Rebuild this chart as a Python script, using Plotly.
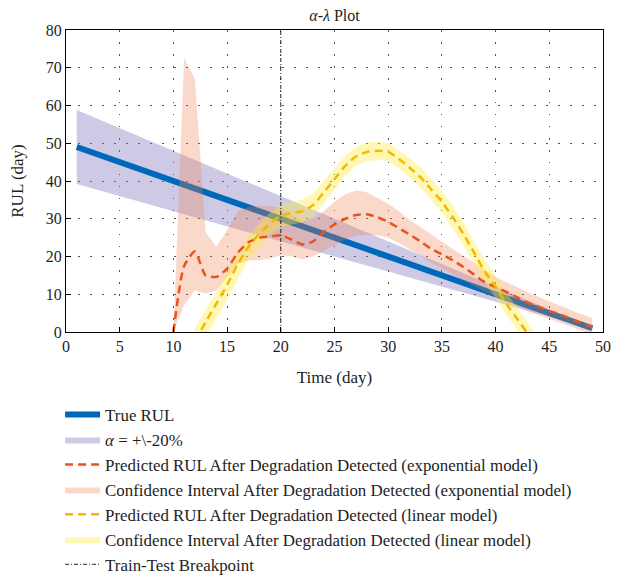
import plotly.graph_objects as go

# ---------------- data ----------------
true_t = [1, 49]
true_rul = [49, 1]

alpha_t = [1, 49]
alpha_upper = [58.8, 1.2]
alpha_lower = [39.2, 0.8]

exp_t = list(range(10, 50))
exp_pred = [0, 17.5, 21.3, 15, 14.6, 16.8, 21, 23.8, 25, 25.3,
            25.6, 24.5, 23.2, 24, 26.5, 28.5, 30, 31, 31.2, 30.4,
            29.2, 27.5, 25.8, 24, 22, 20.6, 19, 17.2, 15.2, 13.2,
            11.9, 10.6, 9.2, 7.8, 6.7, 5.6, 4.6, 3.5, 2.4, 1.3]
exp_upper = [0, 72.5, 67, 26.5, 22.6, 27, 32, 33.2, 33.5, 33.2,
             33, 31, 29.5, 30, 32, 34.5, 36.5, 37.5, 37, 35.5,
             34, 32, 29.7, 27.8, 25.8, 24, 22, 20.2, 18.3, 16.4,
             14.6, 13.2, 11.8, 10.5, 9.3, 8.1, 6.9, 5.8, 4.7, 3.7]
exp_lower = [0, 7.2, 11, 10.2, 11, 14.5, 18, 19, 19, 19.5,
             20.3, 20, 19.3, 20, 21.5, 23, 24.5, 25.5, 25.7, 25.6,
             25, 23.5, 22, 20.3, 18.4, 16.8, 15.2, 13.8, 12.2, 10.6,
             9.3, 8, 6.8, 5.5, 4.4, 3.4, 2.4, 1.4, 0.4, -1]

lin_t = list(range(12, 45))
lin_pred = [-2.5, 2.6, 7.5, 12.5, 18, 22.6, 26, 28.7, 30.8, 31.5,
            32, 33.6, 37, 40.5, 44, 46.5, 47.7, 48, 47.7, 45.8,
            43.5, 41, 37.8, 34.5, 30.5, 26, 21, 16, 12, 7.5,
            3.5, -0.5, -4.5]
lin_upper = [1, 6, 10.5, 16, 21.5, 25.5, 29, 31.5, 33.8, 34.5,
             35, 36.6, 40, 43.3, 46.7, 49, 50.2, 50.4, 50.1, 48.3,
             46.1, 43.7, 40.6, 37.4, 33.5, 29, 24, 19, 15, 10.5,
             6.5, 2.5, -1.5]
lin_lower = [-6, -1.5, 3.5, 8.5, 14, 19, 22.8, 25.8, 27.8, 28.5,
             29, 30.6, 34, 37.7, 41.3, 44, 45.2, 45.6, 45.3, 43.3,
             40.9, 38.3, 35, 31.6, 27.5, 23, 18, 13, 9, 4.5,
             0.5, -3.5, -7.5]

break_t = [20, 20]
break_y = [0, 80]

x_ticks = [0, 5, 10, 15, 20, 25, 30, 35, 40, 45, 50]
y_ticks = [0, 10, 20, 30, 40, 50, 60, 70, 80]

# ---------------- styles ----------------
FONT = "Liberation Serif"
TXT = "#1e1e1e"
BLUE = "#0068B8"
ALPHA_FILL = "rgba(126,116,190,0.38)"
EXP_LINE = "#E8541E"
EXP_FILL = "rgba(240,130,80,0.30)"
LIN_LINE = "#F5B800"
LIN_FILL = "rgba(255,235,50,0.36)"

# the page body has an 8px default margin, so the figure is sized to fit the window
FIG_W, FIG_H = 621, 570

fig = go.Figure()

def band(t, lo, hi, color, name, rank, group):
    return go.Scatter(
        x=list(t) + list(t)[::-1],
        y=list(hi) + list(lo)[::-1],
        fill="toself", fillcolor=color, mode="lines",
        line=dict(width=0, color=color), name=name,
        legendrank=rank, legendgroup=group, hoverinfo="skip")

fig.add_trace(band(alpha_t, alpha_lower, alpha_upper, ALPHA_FILL,
                   "<i>α</i> = +\\-20%", 2, "g2"))
fig.add_trace(go.Scatter(x=true_t, y=true_rul, mode="lines",
                         line=dict(color=BLUE, width=6),
                         name="True RUL", legendrank=1, legendgroup="g1"))
fig.add_trace(band(exp_t, exp_lower, exp_upper, EXP_FILL,
                   "Confidence Interval After Degradation Detected (exponential model)", 4, "g4"))
fig.add_trace(band(lin_t, lin_lower, lin_upper, LIN_FILL,
                   "Confidence Interval After Degradation Detected (linear model)", 6, "g6"))
fig.add_trace(go.Scatter(x=exp_t, y=exp_pred, mode="lines",
                         line=dict(color=EXP_LINE, width=2.5, dash="8px,5px",
                                   shape="spline", smoothing=0.6),
                         name="Predicted RUL After Degradation Detected (exponential model)",
                         legendrank=3, legendgroup="g3"))
fig.add_trace(go.Scatter(x=lin_t, y=lin_pred, mode="lines",
                         line=dict(color=LIN_LINE, width=2.5, dash="8px,5px",
                                   shape="spline", smoothing=0.6),
                         name="Predicted RUL After Degradation Detected (linear model)",
                         legendrank=5, legendgroup="g5"))
fig.add_trace(go.Scatter(x=break_t, y=break_y, mode="lines",
                         line=dict(color="#222222", width=1, dash="4px,2px,1px,2px"),
                         name="Train-Test Breakpoint", legendrank=7, legendgroup="g7"))

axis_common = dict(
    showline=True, linecolor="black", linewidth=1, mirror=True,
    ticks="inside", ticklen=5, tickcolor="black",
    showgrid=True, gridcolor="#555555", gridwidth=1, griddash="1.5px,10.5px",
    zeroline=False, tickfont=dict(family=FONT, size=16, color=TXT),
    automargin=False,
)

fig.update_xaxes(range=[0, 50], tickvals=x_ticks, ticktext=[str(v) for v in x_ticks],
                 title=dict(text="Time (day)", font=dict(family=FONT, size=17, color=TXT),
                            standoff=16),
                 **axis_common)
fig.update_yaxes(range=[0, 80], tickvals=y_ticks, ticktext=[str(v) for v in y_ticks],
                 title=dict(text="RUL (day)", font=dict(family=FONT, size=17, color=TXT),
                            standoff=25),
                 **axis_common)

fig.update_layout(
    width=FIG_W, height=FIG_H,
    margin=dict(l=58, r=26, t=22, b=246),
    paper_bgcolor="white", plot_bgcolor="white",
    title=dict(text="<i>α</i>-<i>λ</i> Plot", x=0.5, xref="paper", xanchor="center",
               y=1 - 7 / FIG_H, yanchor="middle",
               font=dict(family=FONT, size=16, color=TXT)),
    font=dict(family=FONT, color=TXT),
    showlegend=True,
    legend=dict(x=-0.011, xref="paper", xanchor="left",
                y=1 - 389 / FIG_H, yref="container", yanchor="top",
                traceorder="grouped", tracegroupgap=0,
                font=dict(family=FONT, size=16.9, color=TXT),
                bgcolor="rgba(0,0,0,0)", itemwidth=35),
)

fig.write_html("out.html")
